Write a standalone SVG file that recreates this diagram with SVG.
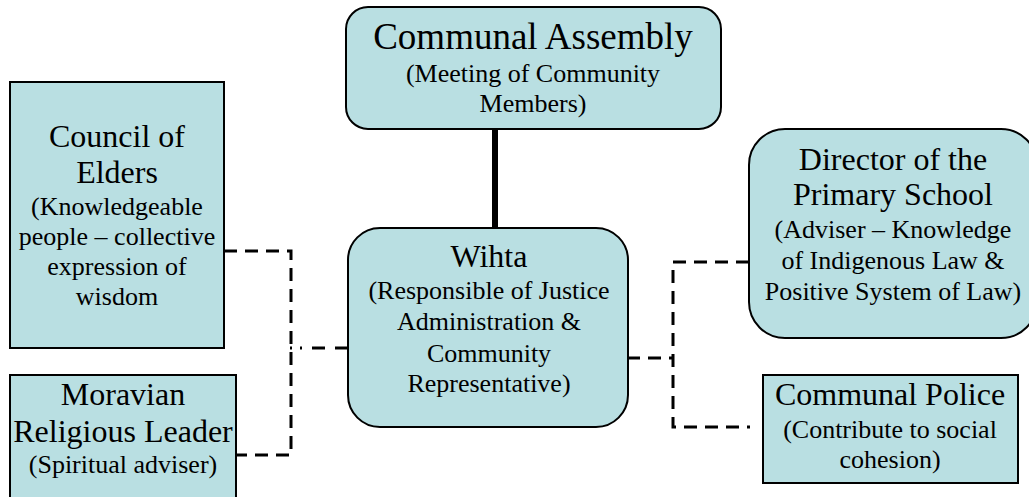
<svg xmlns="http://www.w3.org/2000/svg" width="1029" height="497" viewBox="0 0 1029 497">
<style>
.box{fill:#b9dfe2;stroke:#000;stroke-width:2}
.t{fill:#000;text-anchor:middle}
.h{font-size:32px}
.s{font-size:26px}
.d{fill:none;stroke:#000;stroke-width:3;stroke-dasharray:13,8}
</style>
<rect width="1029" height="497" fill="#fff"/>
<g id="connectors">
<line x1="495" y1="129" x2="495" y2="228" stroke="#000" stroke-width="6"/>
<path class="d" d="M224 251 H291 V455 H236"/>
<path d="M348 348 H290" fill="none" stroke="#000" stroke-width="3" stroke-dasharray="13,10,13,10,2,8,2,20"/>
<path class="d" d="M627 358 H673"/>
<path class="d" d="M749 262 H673 V427 H750"/>
</g>
<g font-family="Liberation Serif, Times New Roman, DejaVu Serif, serif">
<g id="communal-assembly">
<rect class="box" x="346" y="7" width="375" height="122" rx="22"/>
<text class="t" x="533" y="49" font-size="37">Communal Assembly</text>
<text class="t s" x="533" y="82">(Meeting of Community</text>
<text class="t s" x="533" y="112">Members)</text>
</g>
<g id="wihta">
<rect class="box" x="348" y="228" width="280" height="199" rx="32"/>
<text class="t h" x="489" y="267">Wihta</text>
<text class="t s" x="489" y="299">(Responsible of Justice</text>
<text class="t s" x="489" y="330">Administration &amp;</text>
<text class="t s" x="489" y="362">Community</text>
<text class="t s" x="489" y="392">Representative)</text>
</g>
<g id="council-of-elders">
<rect class="box" x="10" y="82" width="214" height="266"/>
<text class="t h" x="117" y="147">Council of</text>
<text class="t h" x="117" y="183">Elders</text>
<text class="t s" x="117" y="215">(Knowledgeable</text>
<text class="t s" x="117" y="245">people – collective</text>
<text class="t s" x="117" y="275">expression of</text>
<text class="t s" x="117" y="305">wisdom</text>
</g>
<g id="moravian-religious-leader">
<rect class="box" x="10" y="375" width="226" height="130"/>
<text class="t h" x="123" y="405">Moravian</text>
<text class="t h" x="123" y="442">Religious Leader</text>
<text class="t s" x="123" y="473">(Spiritual adviser)</text>
</g>
<g id="director-primary-school">
<rect class="box" x="749" y="129" width="288" height="209" rx="36"/>
<text class="t h" x="893" y="170">Director of the</text>
<text class="t h" x="893" y="205">Primary School</text>
<text class="t s" x="893" y="238">(Adviser – Knowledge</text>
<text class="t s" x="893" y="269">of Indigenous Law &amp;</text>
<text class="t s" x="893" y="300">Positive System of Law)</text>
</g>
<g id="communal-police">
<rect class="box" x="763" y="375" width="255" height="108"/>
<text class="t h" x="890" y="405">Communal Police</text>
<text class="t s" x="890" y="438">(Contribute to social</text>
<text class="t s" x="890" y="468">cohesion)</text>
</g>
</g>
</svg>
